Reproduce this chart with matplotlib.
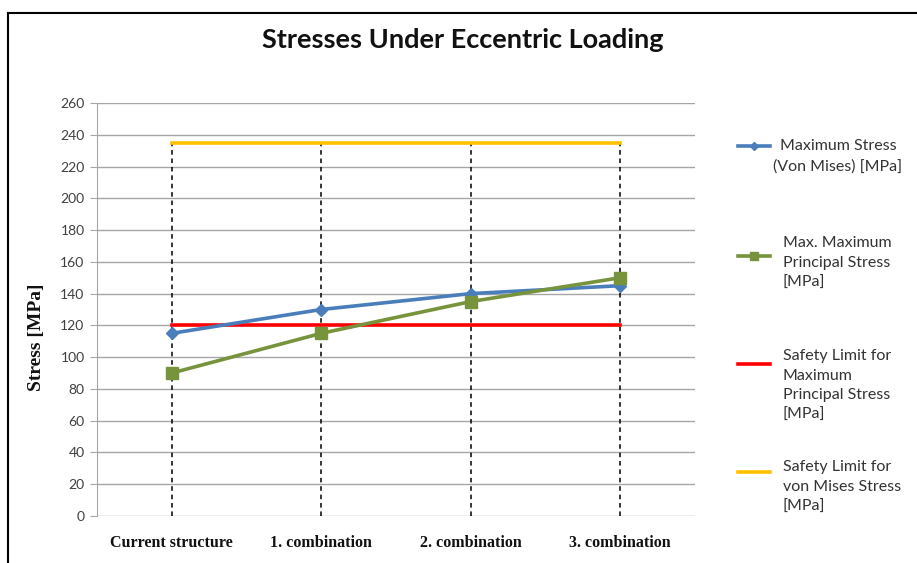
import matplotlib
matplotlib.use("Agg")
import matplotlib.pyplot as plt
from matplotlib.lines import Line2D

categories = ["Current structure", "1. combination", "2. combination", "3. combination"]
von_mises = [115, 130, 140, 145]
max_principal = [90, 115, 135, 150]
limit_principal = [120, 120, 120, 120]
limit_von_mises = [235, 235, 235, 235]
labels = ["Maximum Stress\n(Von Mises) [MPa]",
          "Max. Maximum\nPrincipal Stress\n[MPa]",
          "Safety Limit for\nMaximum\nPrincipal Stress\n[MPa]",
          "Safety Limit for\nvon Mises Stress\n[MPa]"]
yticks = list(range(0, 261, 20))

W, H = 917, 563
fig = plt.figure(figsize=(W/100, H/100), dpi=100)
ax = fig.add_axes([97/W, 1-516/H, (695-97)/W, (516-103)/H])

x = list(range(len(categories)))
c_blue, c_green, c_red, c_yel = "#4A7EBB", "#77933C", "#FF0000", "#FFC000"

ax.vlines(x, 0, limit_von_mises, colors="black", linestyles=(0, (3, 2.5)), lw=1.1, zorder=2)
ax.plot(x, limit_von_mises, color=c_yel, lw=2.6, zorder=3)
ax.plot(x, limit_principal, color=c_red, lw=2.6, zorder=3)
ax.plot(x, von_mises, color=c_blue, lw=2.6, marker="D", ms=6, zorder=4)
ax.plot(x, max_principal, color=c_green, lw=2.6, marker="s", ms=9, zorder=4)

ax.set_xlim(-0.5, 3.5)
ax.set_ylim(0, 260)
ax.set_yticks(yticks)
ax.yaxis.grid(True, color="#A6A6A6", lw=1)
ax.set_axisbelow(True)
ax.set_xticks([])
for s in ["top", "right", "bottom"]:
    ax.spines[s].set_visible(False)
ax.spines["left"].set_color("#A6A6A6")
ax.tick_params(axis="y", colors="#A6A6A6", length=5, labelcolor="#404040", labelsize=10, pad=4)
for t in ax.get_yticklabels():
    t.set_fontfamily("Lato")

for xi, c in zip(x, categories):
    ax.text(xi, -17, c, ha="center", va="center", fontsize=11.5, fontweight="bold",
            fontfamily="Liberation Serif", color="#111111")

fig.text(37/W, 1-337/H, "Stress [MPa]", rotation=90, ha="center", va="center",
         fontsize=14, fontweight="bold", fontfamily="Liberation Serif", color="#111111")
fig.text(463/W, 1-40/H, "Stresses Under Eccentric Loading", ha="center", va="center",
         fontsize=19.5, fontweight="bold", fontfamily="Lato", color="#111111")

# legend
handle_y = [146, 256, 364, 472]
text_top = [139, 236, 349, 460]
colors = [c_blue, c_green, c_red, c_yel]
markers = ["D", "s", None, None]
msizes = [4, 6, 0, 0]
for hy, ty, col, mk, msz, lab, i in zip(handle_y, text_top, colors, markers, msizes, labels, range(4)):
    fig.add_artist(Line2D([738/W, 770/W], [1-hy/H, 1-hy/H], color=col, lw=2.6,
                          marker=None, transform=fig.transFigure))
    if mk:
        fig.add_artist(Line2D([754/W], [1-hy/H], color=col, marker=mk, ms=msz, lw=0,
                              transform=fig.transFigure))
    if i == 0:
        fig.text(838/W, 1-ty/H, lab, ha="center", va="top", multialignment="center",
                 fontsize=11.5, fontfamily="Lato", color="#333333", linespacing=1.52)
    else:
        fig.text(783/W, 1-ty/H, lab, ha="left", va="top", fontsize=11.5,
                 fontfamily="Lato", color="#333333", linespacing=1.52)

# border
fig.add_artist(Line2D([8/W, 1], [1-13/H, 1-13/H], color="black", lw=1.5, transform=fig.transFigure))
fig.add_artist(Line2D([8/W, 8/W], [1-13/H, 0], color="black", lw=1.5, transform=fig.transFigure))

fig.savefig("out.png", dpi=100)
